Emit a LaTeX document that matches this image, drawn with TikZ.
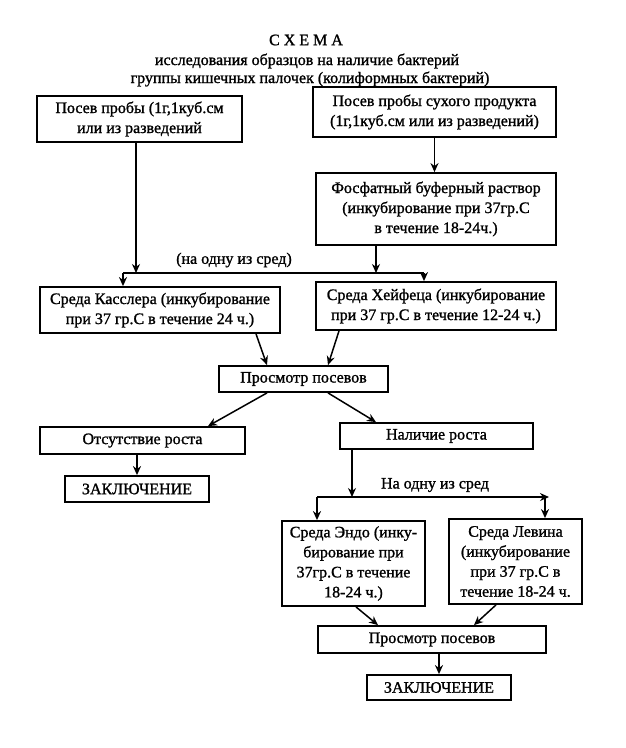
\documentclass[tikz,border=0pt]{standalone}
\usepackage{fontspec}
\setmainfont{Liberation Serif}[FakeBold=1.2]
\usetikzlibrary{arrows.meta}
\begin{document}
\begin{tikzpicture}[x=1pt,y=-1pt,
  box/.style={draw,line width=1.8pt,inner sep=1pt,align=center,font=\fontsize{16}{20}\selectfont},
  lbl/.style={inner sep=0pt,font=\fontsize{16}{20}\selectfont},
  arr/.style={line width=1.5pt,-{Stealth[length=9pt,width=8pt]}},
  ln/.style={line width=1.5pt}]
\useasboundingbox (0,0) rectangle (626,748);
% title
\node[lbl] (t1) at (306,40) {С Х Е М А};
\node[lbl] (t2) at (307,61) {исследования образцов на наличие бактерий};
\node[lbl] (t3) at (310,79) {группы кишечных палочек (колиформных бактерий)};
% boxes
\node[box,minimum width=205pt,minimum height=46pt] (b1) at (139.5,119) {Посев пробы (1г,1куб.см\\или из разведений};
\node[box,minimum width=243pt,minimum height=50pt] (b2) at (434.5,112) {Посев пробы сухого продукта\\(1г,1куб.см или из разведений)};
\node[box,minimum width=240pt,minimum height=72pt] (b3) at (436,209) {Фосфатный буферный раствор\\(инкубирование при 37гр.С\\в течение 18-24ч.)};
\node[box,minimum width=240pt,minimum height=46pt] (kas) at (160,310) {Среда Касслера (инкубирование\\при 37 гр.С в течение 24 ч.)};
\node[box,minimum width=240pt,minimum height=48pt] (hei) at (436,306) {Среда Хейфеца (инкубирование\\при 37 гр.С в течение 12-24 ч.)};
\node[box,minimum width=169pt,minimum height=26pt] (pr1) at (303.5,379) {Просмотр посевов};
\node[box,minimum width=205pt,minimum height=27pt] (ots) at (142.5,440.5) {Отсутствие роста};
\node[box,minimum width=193pt,minimum height=26pt] (nal) at (436.5,436) {Наличие роста};
\node[box,minimum width=144pt,minimum height=26pt] (zak1) at (137,489) {ЗАКЛЮЧЕНИЕ};
\node[box,minimum width=143pt,minimum height=85pt] (endo) at (353.5,563.5) {Среда Эндо (инку-\\бирование при\\37гр.С в течение\\18-24 ч.)};
\node[box,minimum width=133pt,minimum height=85pt] (lev) at (515.5,561.5) {Среда Левина\\(инкубирование\\при 37 гр.С в\\течение 18-24 ч.};
\node[box,minimum width=228pt,minimum height=27pt] (pr2) at (432,639.5) {Просмотр посевов};
\node[box,minimum width=144pt,minimum height=25pt] (zak2) at (439,687.5) {ЗАКЛЮЧЕНИЕ};
% labels
\node[lbl] (l1) at (234,260) {(на одну из сред)};
\node[lbl] (l2) at (435,485) {На одну из сред};
% junction coordinates
\coordinate (hlL) at (123,273);
\coordinate (hlR) at (424,273);
\coordinate (hlA) at (136,273);
\coordinate (hlB) at (376,273);
\coordinate (h2L) at (317,497);
\coordinate (h2R) at (549,497);
\coordinate (h2D) at (545,497);
\coordinate (h2M) at (352,497);
% connectors
\draw[arr] (b1.south -| hlA) -- (hlA);
\draw[arr] (b2.south) -- (b2.south |- b3.north);
\draw[arr] (b3.south -| hlB) -- (hlB);
\draw[ln] (hlL) -- (hlR);
\draw[arr] (hlL) -- (hlL |- kas.north);
\draw[arr] (hlR) -- (hlR |- hei.north);
\draw[arr] ([xshift=96pt]kas.south) -- ([xshift=-36.5pt]pr1.north);
\draw[arr] ([xshift=-97pt]hei.south) -- ([xshift=24.5pt]pr1.north);
\draw[arr] ([xshift=-36.5pt]pr1.south) -- ([xshift=65.5pt]ots.north);
\draw[arr] ([xshift=24.5pt]pr1.south) -- ([xshift=-60.5pt]nal.north);
\draw[arr] (zak1.north |- ots.south) -- (zak1.north);
\draw[arr] (nal.south -| h2M) -- (h2M);
\draw[arr] (h2L) -- (h2R);
\draw[arr] (h2L) -- (h2L |- endo.north);
\draw[arr] (h2D) -- (h2D |- lev.north);
\draw[arr] ([xshift=2.5pt]endo.south) -- ([xshift=-54pt]pr2.north);
\draw[arr] ([xshift=-19.5pt]lev.south) -- ([xshift=42pt]pr2.north);
\draw[arr] (zak2.north |- pr2.south) -- (zak2.north);
\end{tikzpicture}
\end{document}
